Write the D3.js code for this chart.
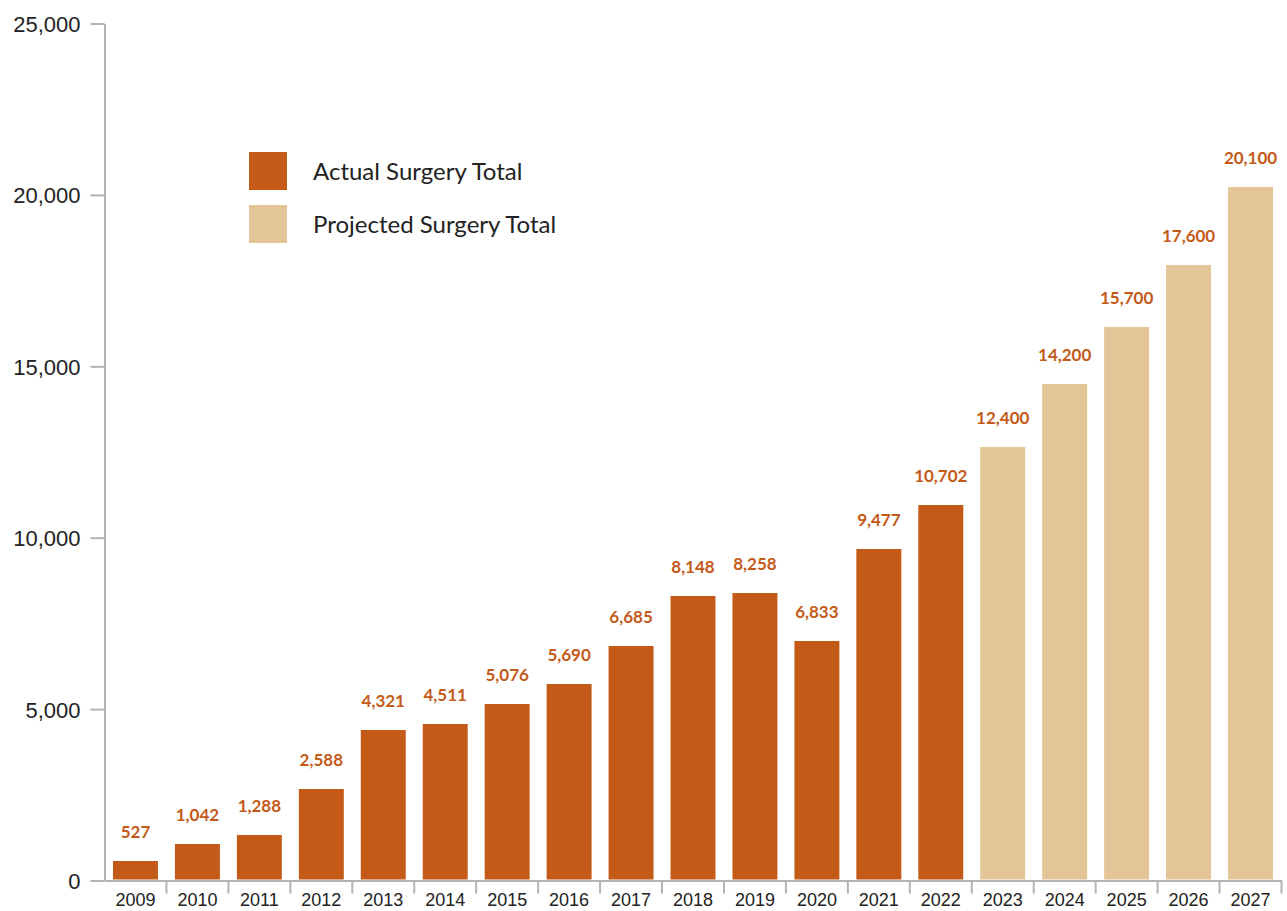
<!DOCTYPE html>
<html>
<head>
<meta charset="utf-8">
<script src="https://cdn.jsdelivr.net/npm/d3@7"></script>
<style>
  body { margin: 0; background: #fff; }
  svg { display: block; font-family: Lato, "Source Sans Pro", sans-serif; }
</style>
</head>
<body>
<div id="chart"></div>
<script>
// data
var years = ["2009","2010","2011","2012","2013","2014","2015","2016","2017","2018",
             "2019","2020","2021","2022","2023","2024","2025","2026","2027"];
// printed totals (bar labels)
var totals = [527,1042,1288,2588,4321,4511,5076,5690,6685,8148,
              8258,6833,9477,10702,12400,14200,15700,17600,20100];
// bar heights as drawn in the picture (a bit taller than the labels)
var barValues = [569,1065,1327,2669,4390,4565,5149,5732,6841,8299,
                 8387,6987,9670,10954,12646,14484,16147,17955,20230];
var projected = [false,false,false,false,false,false,false,false,false,false,
                 false,false,false,false,true,true,true,true,true];
var yTicks = [0,5000,10000,15000,20000,25000];
var seriesNames = ["Actual Surgery Total", "Projected Surgery Total"];
var seriesColors = ["#C45A18", "#E3C598"];

var width = 1287, height = 911;
var axisColor = "#b3b3b3";

var data = years.map(function(y, i) {
  return {year: y, value: totals[i], bar: barValues[i], projected: projected[i]};
});

var svg = d3.select("#chart")
  .append("svg")
  .attr("width", width)
  .attr("height", height);

// Set the x and y scales
var xScale = d3.scaleBand()
  .domain(years)
  .range([104.5, 1281.5])
  .padding(0);

var yScale = d3.scaleLinear()
  .domain([0, 25000])
  .range([880.5, 23.5]);

var barW = xScale.bandwidth() * 45 / 62;

// y axis
var yAxis = svg.append("g")
  .attr("transform", "translate(104.5,0)")
  .call(d3.axisLeft(yScale)
    .tickValues(yTicks)
    .tickSize(14)
    .tickSizeOuter(0)
    .tickPadding(10)
    .tickFormat(d3.format(",")));
yAxis.select(".domain").attr("stroke", axisColor).attr("stroke-width", 2);
yAxis.selectAll(".tick line").attr("stroke", axisColor).attr("stroke-width", 2);
yAxis.selectAll(".tick text")
  .attr("fill", "#222")
  .style("font-size", "22px")
  .attr("dy", "0.36em");

// x axis
var xAxis = svg.append("g")
  .attr("transform", "translate(0,880.5)")
  .call(d3.axisBottom(xScale)
    .tickSize(0)
    .tickSizeOuter(0)
    .tickPadding(13));
xAxis.select(".domain").attr("stroke", axisColor).attr("stroke-width", 2);
xAxis.selectAll(".tick text")
  .attr("fill", "#222")
  .style("font-size", "18px");

// separators between years
xAxis.selectAll(".sep")
  .data(years.slice(1).concat(["end"]))
  .enter()
  .append("line")
  .attr("class", "sep")
  .attr("x1", function(d) { return d === "end" ? xScale.range()[1] : xScale(d); })
  .attr("x2", function(d) { return d === "end" ? xScale.range()[1] : xScale(d); })
  .attr("y1", 0)
  .attr("y2", 13)
  .attr("stroke", axisColor)
  .attr("stroke-width", 2);

// Create the bars
var bars = svg.selectAll(".bar")
  .data(data)
  .enter()
  .append("g")
  .attr("class", "bar");

bars.append("rect")
  .attr("x", function(d) { return xScale(d.year) + (xScale.bandwidth() - barW) / 2; })
  .attr("y", function(d) { return yScale(d.bar); })
  .attr("width", barW)
  .attr("height", function(d) { return yScale(0) - yScale(d.bar) - 1; })
  .attr("fill", function(d) { return d.projected ? seriesColors[1] : seriesColors[0]; });

bars.append("text")
  .attr("x", function(d) { return xScale(d.year) + xScale.bandwidth() / 2; })
  .attr("y", function(d) { return yScale(d.bar) - 23; })
  .attr("text-anchor", "middle")
  .attr("fill", "#C45A18")
  .attr("font-weight", "700")
  .style("font-size", "17px")
  .text(function(d) { return d3.format(",")(d.value); });

// legend
var legend = svg.selectAll(".legend")
  .data(seriesNames)
  .enter()
  .append("g")
  .attr("class", "legend")
  .attr("transform", function(d, i) { return "translate(249," + (152 + i * 53) + ")"; });

legend.append("rect")
  .attr("width", 38)
  .attr("height", 38)
  .attr("fill", function(d, i) { return seriesColors[i]; });

legend.append("text")
  .attr("x", 64)
  .attr("y", 19)
  .attr("dy", "0.36em")
  .attr("fill", "#222")
  .style("font-size", "24px")
  .text(function(d) { return d; });
</script>
</body>
</html>
